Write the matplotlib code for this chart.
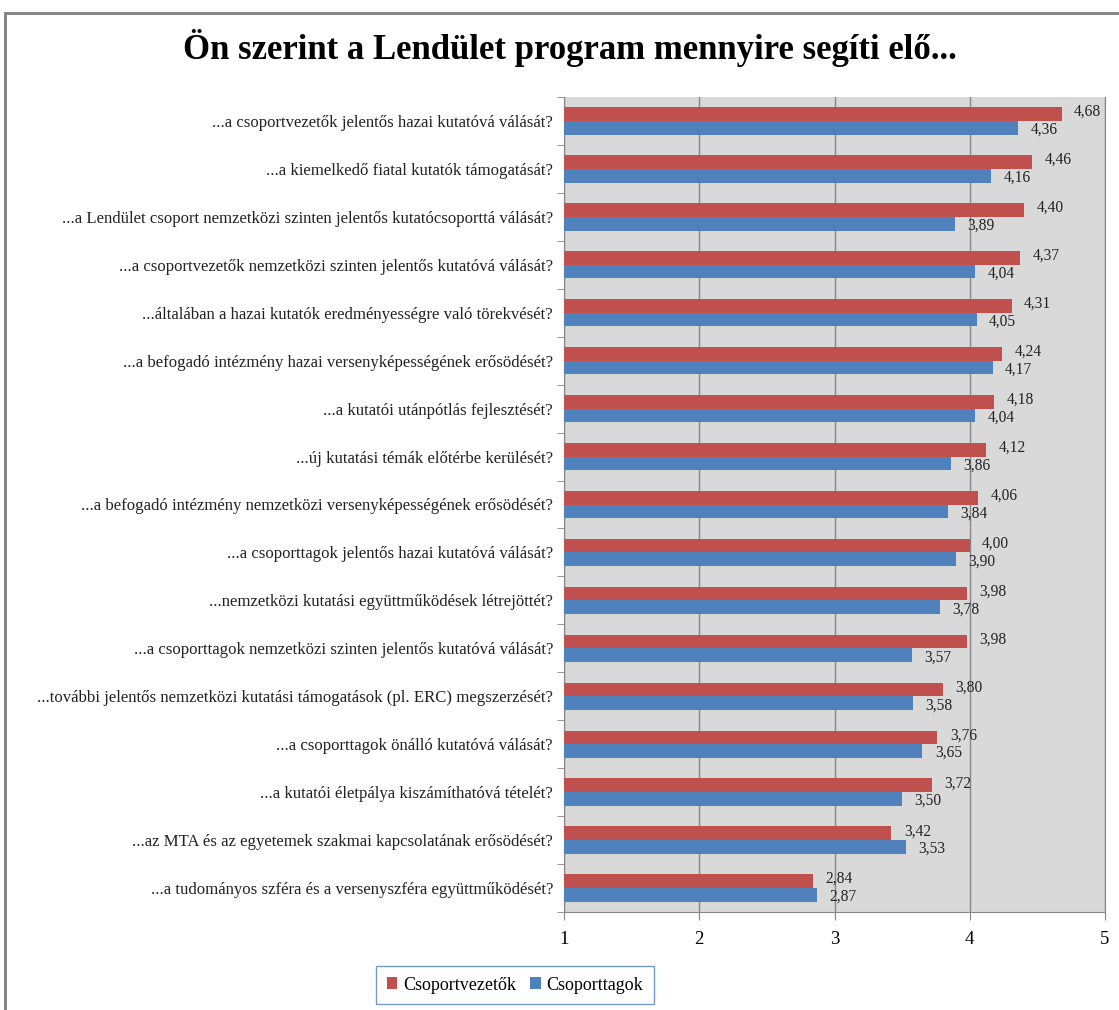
import matplotlib
matplotlib.use("Agg")
import matplotlib.pyplot as plt
import numpy as np
from matplotlib.patches import Rectangle

categories = [
    "...a csoportvezetők jelentős hazai kutatóvá válását?",
    "...a kiemelkedő fiatal kutatók támogatását?",
    "...a Lendület csoport nemzetközi szinten jelentős kutatócsoporttá válását?",
    "...a csoportvezetők nemzetközi szinten jelentős kutatóvá válását?",
    "...általában a hazai kutatók eredményességre való törekvését?",
    "...a befogadó intézmény hazai versenyképességének erősödését?",
    "...a kutatói utánpótlás fejlesztését?",
    "...új kutatási témák előtérbe kerülését?",
    "...a befogadó intézmény nemzetközi versenyképességének erősödését?",
    "...a csoporttagok jelentős hazai kutatóvá válását?",
    "...nemzetközi kutatási együttműködések létrejöttét?",
    "...a csoporttagok nemzetközi szinten jelentős kutatóvá válását?",
    "...további jelentős nemzetközi kutatási támogatások (pl. ERC) megszerzését?",
    "...a csoporttagok önálló kutatóvá válását?",
    "...a kutatói életpálya kiszámíthatóvá tételét?",
    "...az MTA és az egyetemek szakmai kapcsolatának erősödését?",
    "...a tudományos szféra és a versenyszféra együttműködését?",
]
vezetok = [4.68, 4.46, 4.40, 4.37, 4.31, 4.24, 4.18, 4.12, 4.06, 4.00, 3.98, 3.98, 3.80, 3.76, 3.72, 3.42, 2.84]
tagok = [4.36, 4.16, 3.89, 4.04, 4.05, 4.17, 4.04, 3.86, 3.84, 3.90, 3.78, 3.57, 3.58, 3.65, 3.50, 3.53, 2.87]
series_names = ["Csoportvezetők", "Csoporttagok"]
xticks = [1, 2, 3, 4, 5]

RED = "#C0504D"
BLUE = "#4F81BD"
SERIF = ["Liberation Serif", "DejaVu Serif"]
plt.rcParams['font.family'] = SERIF

W, H = 1119, 1010
fig = plt.figure(figsize=(W / 100, H / 100), dpi=100)
fig.patches.append(Rectangle((5 / W, -0.1), 1.2, 1 - 13 / H + 0.1, transform=fig.transFigure,
                             fill=False, edgecolor="#7F7F7F", linewidth=2.0))

ax = fig.add_axes([564 / W, 1 - 912 / H, (1105 - 564) / W, (912 - 97) / H])
ax.set_facecolor("#D9D9D9")

n = len(categories)
y = np.arange(n)
bh = 0.285
rv = np.array(vezetok) - 1
bv = np.array(tagok) - 1
ax.barh(y - bh / 2, rv, height=bh, left=1, color=RED, label=series_names[0], zorder=3)
ax.barh(y + bh / 2, bv, height=bh, left=1, color=BLUE, label=series_names[1], zorder=3)

for yi, v in zip(y, vezetok):
    ax.annotate(f"{v:.2f}".replace(".", ","), (v, yi - bh / 2), xytext=(9, 1.5),
                textcoords="offset points", va="center", ha="left", fontsize=11.2, color="#222222", zorder=4)
for yi, v in zip(y, tagok):
    ax.annotate(f"{v:.2f}".replace(".", ","), (v, yi + bh / 2), xytext=(9, -1.5),
                textcoords="offset points", va="center", ha="left", fontsize=11.2, color="#222222", zorder=4)

ax.set_xlim(1, 5)
ax.set_ylim(n - 0.5, -0.5)
ax.set_xticks(xticks)
ax.set_xticklabels([str(t) for t in xticks], fontsize=13.5)
ax.set_yticks(y)
ax.set_yticklabels(categories, fontsize=12.1, color="#222222")
ax.set_yticks(np.arange(n + 1) - 0.5, minor=True)
ax.tick_params(axis="y", which="major", length=0, pad=8)
ax.tick_params(axis="y", which="minor", length=5, color="#868686")
ax.tick_params(axis="x", length=6, color="#868686", pad=8)
ax.grid(axis="x", color="#868686", linewidth=1.0, zorder=1)
for s in ["left", "bottom", "right"]:
    ax.spines[s].set_color("#868686")
ax.spines["top"].set_visible(False)

fig.text(570 / W, 1 - 48 / H, "Ön szerint a Lendület program mennyire segíti elő...",
         ha="center", va="center", fontsize=25, fontweight="bold", color="black")

leg = fig.legend(loc="center", bbox_to_anchor=(515 / W, 1 - 985 / H), ncol=2, fontsize=13,
                 frameon=True, fancybox=False, handlelength=0.6, handleheight=0.6,
                 handletextpad=0.3, columnspacing=0.8, borderpad=0.6)
leg.get_frame().set_edgecolor(BLUE)
leg.get_frame().set_linewidth(1.0)

fig.savefig("out.png", dpi=100)
